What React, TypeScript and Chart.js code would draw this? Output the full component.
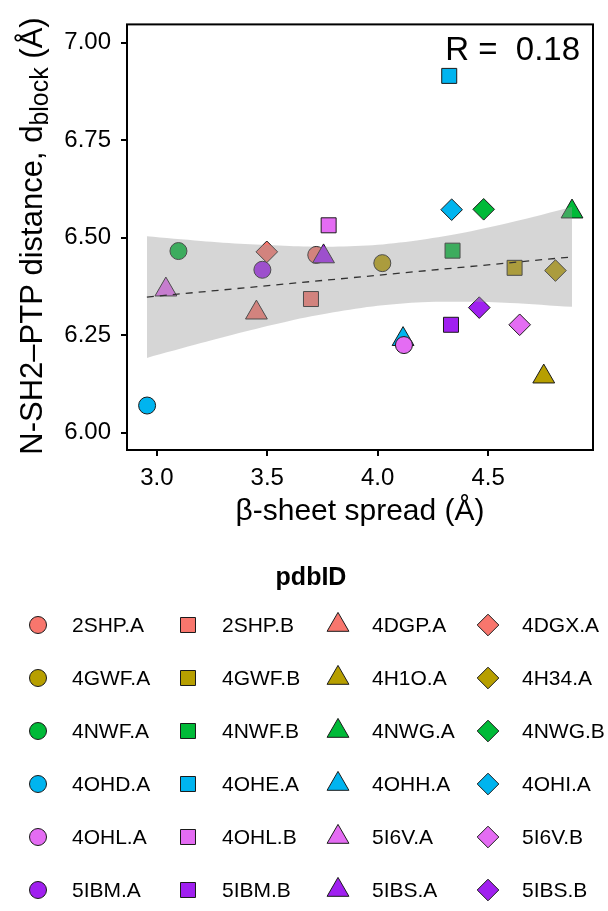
import React, { useEffect, useRef } from "react";
import { Chart, registerables } from "chart.js";
import { drawPoint } from "chart.js/helpers";

Chart.register(...registerables);

const FONT = '"Liberation Sans", Arial, Helvetica, sans-serif';

// ---- data ----
const IDS = [
  "2SHP.A", "2SHP.B", "4DGP.A", "4DGX.A",
  "4GWF.A", "4GWF.B", "4H1O.A", "4H34.A",
  "4NWF.A", "4NWF.B", "4NWG.A", "4NWG.B",
  "4OHD.A", "4OHE.A", "4OHH.A", "4OHI.A",
  "4OHL.A", "4OHL.B", "5I6V.A", "5I6V.B",
  "5IBM.A", "5IBM.B", "5IBS.A", "5IBS.B",
];
const SPREAD = [
  3.722, 3.698, 3.451, 3.498,
  4.021, 4.620, 4.752, 4.805,
  3.098, 4.339, 4.880, 4.480,
  2.956, 4.324, 4.115, 4.335,
  4.119, 3.778, 3.041, 4.643,
  3.478, 4.332, 3.755, 4.460,
];
const DBLOCK = [
  6.456, 6.343, 6.308, 6.464,
  6.435, 6.423, 6.144, 6.416,
  6.466, 6.467, 6.567, 6.573,
  6.070, 6.915, 6.240, 6.572,
  6.225, 6.532, 6.367, 6.277,
  6.418, 6.277, 6.452, 6.321,
];
const GROUP_COLORS = ["#F8766D", "#B79F00", "#00BA38", "#00B4EF", "#E46CF3", "#A020F0"];
const SHAPES = ["circle", "rect", "triangle", "rectRot"];
const SHAPE_RADIUS = [8.5, 10.6, 12.6, 10.8];

// smoothing band / fit
const BAND_X = [2.955, 3.2, 3.4, 3.6, 3.8, 4.0, 4.2, 4.4, 4.6, 4.88];
const BAND_HI = [6.504, 6.492, 6.484, 6.479, 6.477, 6.482, 6.495, 6.514, 6.539, 6.579];
const BAND_LO = [6.192, 6.230, 6.260, 6.287, 6.309, 6.326, 6.335, 6.336, 6.333, 6.323];
const FIT_X = [2.955, 4.88];
const FIT_Y = [6.348, 6.451];

const X_TICKS = [3.0, 3.5, 4.0, 4.5];
const Y_TICKS = [6.0, 6.25, 6.5, 6.75, 7.0];
const R_LABEL = "R =  0.18";
const X_TITLE = "β-sheet spread (Å)";
const Y_TITLE_MAIN = "N-SH2–PTP distance, d";
const Y_TITLE_SUB = "block";
const Y_TITLE_END = " (Å)";
const LEGEND_TITLE = "pdbID";

const colorOf = (i: number) => GROUP_COLORS[Math.floor(i / 4)];
const shapeOf = (i: number) => SHAPES[i % 4];
const radiusOf = (i: number) => SHAPE_RADIUS[i % 4];

const decor = {
  id: "decor",
  afterDraw(chart: any) {
    const { ctx, chartArea: a } = chart;
    ctx.save();
    // panel border
    ctx.strokeStyle = "#000";
    ctx.lineWidth = 2;
    ctx.strokeRect(a.left, a.top, a.right - a.left, a.bottom - a.top);

    // R label
    ctx.fillStyle = "#000";
    ctx.font = `33px ${FONT}`;
    ctx.textAlign = "right";
    ctx.textBaseline = "alphabetic";
    ctx.fillText(R_LABEL, a.right - 13, a.top + 36);

    // x title
    ctx.font = `30px ${FONT}`;
    ctx.textAlign = "center";
    ctx.fillText(X_TITLE, (a.left + a.right) / 2, 520);

    // y title (rotated, with subscript)
    const mainF = `31px ${FONT}`;
    const subF = `25px ${FONT}`;
    ctx.font = mainF;
    const w1 = ctx.measureText(Y_TITLE_MAIN).width;
    const w3 = ctx.measureText(Y_TITLE_END).width;
    ctx.font = subF;
    const w2 = ctx.measureText(Y_TITLE_SUB).width;
    const total = w1 + w2 + w3;
    ctx.save();
    ctx.translate(42, 236);
    ctx.rotate(-Math.PI / 2);
    ctx.textAlign = "left";
    let x0 = -total / 2;
    ctx.font = mainF;
    ctx.fillText(Y_TITLE_MAIN, x0, 0);
    x0 += w1;
    ctx.font = subF;
    ctx.fillText(Y_TITLE_SUB, x0, 6);
    x0 += w2;
    ctx.font = mainF;
    ctx.fillText(Y_TITLE_END, x0, 0);
    ctx.restore();

    // legend
    ctx.font = `bold 25px ${FONT}`;
    ctx.textAlign = "center";
    ctx.fillText(LEGEND_TITLE, 311, 585);
    ctx.textAlign = "left";
    ctx.font = `21px ${FONT}`;
    IDS.forEach((id, i) => {
      const row = Math.floor(i / 4);
      const col = i % 4;
      const cy = 625 + row * 53;
      const mx = 38 + col * 150;
      const tx = 72 + col * 150;
      ctx.fillStyle = colorOf(i);
      ctx.strokeStyle = "#1a1a1a";
      ctx.lineWidth = 1;
      drawPoint(ctx, { pointStyle: shapeOf(i), rotation: 0, radius: radiusOf(i), borderWidth: 1 } as any, mx, cy);
      ctx.fillStyle = "#000";
      ctx.fillText(id, tx, cy + 7);
    });
    ctx.restore();
  },
};

export default function App() {
  const ref = useRef<HTMLCanvasElement>(null);
  useEffect(() => {
    document.body.style.margin = "0";
    const pts = IDS.map((_, i) => ({ x: SPREAD[i], y: DBLOCK[i] }));
    const chart = new Chart(ref.current!, {
      type: "scatter",
      data: {
        datasets: [
          {
            label: "points",
            data: pts,
            order: 10,
            showLine: false,
            pointStyle: IDS.map((_, i) => shapeOf(i)) as any,
            pointRadius: IDS.map((_, i) => radiusOf(i)),
            pointBackgroundColor: IDS.map((_, i) => colorOf(i)),
            pointBorderColor: "#1a1a1a",
            pointBorderWidth: 1,
          } as any,
          {
            label: "lo",
            data: BAND_X.map((x, i) => ({ x, y: BAND_LO[i] })),
            order: 5,
            showLine: true,
            borderWidth: 0,
            borderColor: "rgba(0,0,0,0)",
            pointRadius: 0,
            tension: 0.3,
            fill: false,
          } as any,
          {
            label: "hi",
            data: BAND_X.map((x, i) => ({ x, y: BAND_HI[i] })),
            order: 5,
            showLine: true,
            borderWidth: 0,
            borderColor: "rgba(0,0,0,0)",
            pointRadius: 0,
            tension: 0.3,
            fill: { target: "-1" },
            backgroundColor: "rgba(153,153,153,0.4)",
          } as any,
          {
            label: "fit",
            data: FIT_X.map((x, i) => ({ x, y: FIT_Y[i] })),
            order: 1,
            showLine: true,
            borderColor: "#333333",
            borderWidth: 1.3,
            borderDash: [7, 6],
            pointRadius: 0,
            fill: false,
          } as any,
        ],
      },
      options: {
        animation: false,
        responsive: false,
        devicePixelRatio: 1,
        events: [],
        layout: { padding: { left: 0, top: 11, right: 15, bottom: 401 } },
        plugins: { legend: { display: false }, tooltip: { enabled: false } },
        scales: {
          x: {
            type: "linear",
            min: 2.865,
            max: 4.975,
            afterBuildTicks: (s: any) => {
              s.ticks = X_TICKS.map((v) => ({ value: v }));
            },
            afterFit: (s: any) => {
              s.height = 60;
            },
            ticks: {
              color: "#000",
              font: { family: FONT, size: 24 },
              padding: 8,
              maxRotation: 0,
              autoSkip: false,
              callback: (v: any) => Number(v).toFixed(1),
            },
            grid: { drawOnChartArea: false, drawTicks: true, tickLength: 6, color: "#000", lineWidth: 2 },
            border: { display: false },
          },
          y: {
            type: "linear",
            min: 5.956,
            max: 7.047,
            afterBuildTicks: (s: any) => {
              s.ticks = Y_TICKS.map((v) => ({ value: v }));
            },
            afterFit: (s: any) => {
              s.width = 127;
            },
            ticks: {
              color: "#000",
              font: { family: FONT, size: 24 },
              padding: 10,
              autoSkip: false,
              callback: (v: any) => Number(v).toFixed(2),
            },
            grid: { drawOnChartArea: false, drawTicks: true, tickLength: 6, color: "#000", lineWidth: 2 },
            border: { display: false },
          },
        },
      },
      plugins: [decor],
    } as any);
    return () => chart.destroy();
  }, []);
  return (
    <div style={{ width: 608, height: 911 }}>
      <canvas ref={ref} width={608} height={911} style={{ display: "block" }} />
    </div>
  );
}
